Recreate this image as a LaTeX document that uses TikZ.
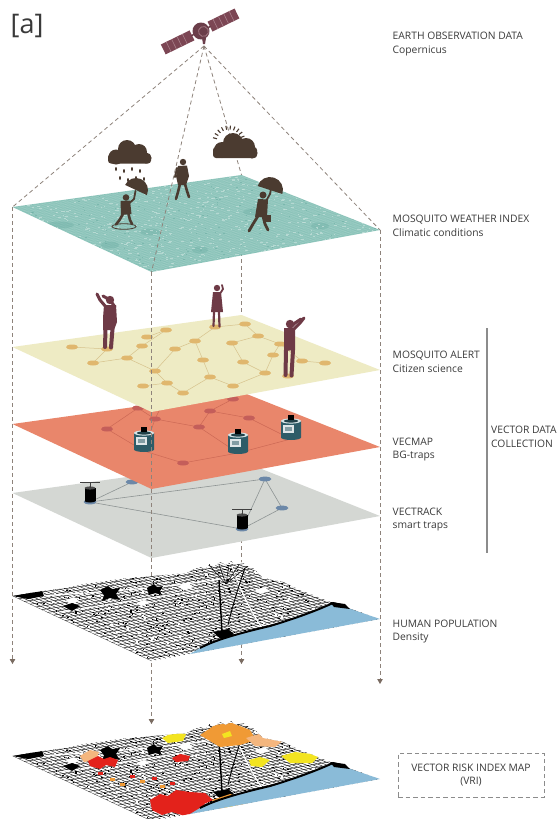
\documentclass[tikz,border=0pt]{standalone}
\usepackage{fontspec}
\setmainfont{Open Sans}
\usetikzlibrary{arrows.meta,calc}

\definecolor{txt}{HTML}{3A3A3A}
\definecolor{dashc}{HTML}{8E837B}
\definecolor{arrowc}{HTML}{7A6C62}
\definecolor{teala}{HTML}{88C2B8}
\definecolor{tealb}{HTML}{C2E0DA}
\definecolor{tealc}{HTML}{6DAEA4}
\definecolor{yellowl}{HTML}{EEEBC4}
\definecolor{yellowd}{HTML}{E0B76E}
\definecolor{yellown}{HTML}{D6C28C}
\definecolor{corall}{HTML}{E9866B}
\definecolor{corald}{HTML}{C45E5A}
\definecolor{coraln}{HTML}{C5614F}
\definecolor{greyl}{HTML}{D4D7D3}
\definecolor{greyn}{HTML}{8E9494}
\definecolor{blued}{HTML}{6C88A8}
\definecolor{sea}{HTML}{8ABBD8}
\definecolor{brownsil}{HTML}{4B3B30}
\definecolor{maroonsil}{HTML}{6E3A46}
\definecolor{satbody}{HTML}{6B3E4A}
\definecolor{satpanel}{HTML}{7C4654}
\definecolor{satline}{HTML}{A9808A}
\definecolor{trapbody}{HTML}{2E5C68}
\definecolor{traplid}{HTML}{D6E4E6}
\definecolor{vlinec}{HTML}{8C8C8C}
\definecolor{riskred}{HTML}{E3221B}
\definecolor{riskorange}{HTML}{F09A35}
\definecolor{riskpeach}{HTML}{F4B67E}
\definecolor{riskyellow}{HTML}{F3E420}

\tikzset{
  guide/.style={draw=dashc, line width=0.8pt, dash pattern=on 4pt off 3pt},
  guidearrow/.style={guide, -{Triangle[width=5.5pt,length=5pt,color=arrowc]}},
  lbl/.style={font=\fontsize{10.3}{12}\selectfont, text=txt, inner sep=0pt, anchor=base west},
  limb/.style={line cap=round, line join=round},
  ynet/.style={draw=yellown, line width=0.5pt},
  cnet/.style={draw=coraln, line width=0.5pt, opacity=0.8},
  gnet/.style={draw=greyn, line width=0.6pt},
  street/.style={black!85, line width=0.5pt},
}

% street-map outline of the city (human population frame)
\newcommand\cityoutline{(12.5,596) -- (30,593) -- (50,590) -- (67,588) -- (84,584) -- (100,582) -- (120,579) -- (143,577) -- (165,575) -- (187,573) -- (194,569) -- (200,567) -- (205,569) -- (210,564) -- (215,566) -- (220,562) -- (226,565) -- (231,561) -- (236,565) -- (242,562) -- (247,566) -- (252,567) -- (258,573) -- (263,578) -- (283,582) -- (300,590) -- (318,597) -- (333,603) -- (380,619) -- (151.5,661) -- cycle}

\newcommand\citymap[1]{%
\begin{scope}
  \clip \cityoutline;
  \fill[white] (0,540) rectangle (400,680);
  \foreach \u in {0,0.021,...,1.0}
    \draw[street, shorten <=-16pt] ({12.5+229*\u},{596-32*\u}) -- ({151.5+228.5*\u},{661-42*\u});
  \foreach \v in {0,0.042,...,1.0}
    \draw[street, shorten >=-16pt] ({12.5+139*\v},{596+65*\v}) -- ({241.5+138.5*\v},{564+55*\v});
  % irregular blocks breaking the grid
  \pgfmathsetseed{7}
  \foreach \i in {1,...,250}{
    \pgfmathsetmacro\px{12+rnd*370}
    \pgfmathsetmacro\py{555+rnd*108}
    \fill[white] (\px,\py) rectangle ++(2.2,1.4);
  }
  \foreach \i in {1,...,650}{
    \pgfmathsetmacro\px{12+rnd*370}
    \pgfmathsetmacro\py{555+rnd*108}
    \fill[black] (\px,\py) rectangle ++(1.5,1.1);
  }
  % open squares and avenues
  \fill[white] (66,600) -- (74,597) -- (79,601) -- (70,604) -- cycle;
  \fill[white] (136,603) -- (144,600) -- (150,603) -- (141,606) -- cycle;
  \fill[white] (178,586) -- (188,583) -- (194,587) -- (183,590) -- cycle;
  \fill[white] (255,590) -- (264,587) -- (270,591) -- (260,594) -- cycle;
  \draw[white, line width=1.2pt] (40,596) .. controls (100,592) and (170,588) .. (240,576);
  \draw[white, line width=1pt] (232,566) .. controls (240,590) and (250,610) .. (262,628);
  \draw[white, line width=0.9pt] (60,612) -- (200,590);
  % dense dark districts
  \fill[black] (13,596) -- (42,591) -- (44,596) -- (28,599) -- cycle;
  \fill[black] (63,606) -- (72,603) -- (80,606) -- (72,611) -- cycle;
  \fill[black] (100,590) -- (108,586) -- (112,589) -- (120,588) -- (116,594) -- (120,600) -- (110,598) -- (102,601) -- (104,595) -- cycle;
  \fill[black] (147,588) -- (154,584) -- (157,587) -- (163,586) -- (160,591) -- (162,595) -- (155,593) -- (149,595) -- cycle;
  \fill[black] (213,632) -- (228,629) -- (234,634) -- (222,640) -- cycle;
  \draw[black, line width=1.4pt] (219,580) -- (222,632);
  \draw[black, line width=0.9pt] (245,568) .. controls (238,588) and (232,608) .. (228,625);
  \foreach \px in {209,219,...,249}
    \draw[black, line width=0.5pt] (226,584) -- (\px,565);
  #1
\end{scope}
% sea and coastline
\fill[sea] (333,603) -- (380,619) -- (190,654) -- (200,648) .. controls (215,640) and (240,633) .. (270,626) .. controls (300,617) and (320,609) .. (333,603) -- cycle;
\draw[black, line width=2pt] (346,606) -- (333,603) .. controls (320,609) and (300,617) .. (270,626) .. controls (240,633) and (215,640) .. (200,648);
\fill[black] (330,602) -- (345,604) -- (350,609) -- (334,607) -- cycle;
}

% risk classes painted over the street map
\newcommand\riskpatches{%
  \fill[riskpeach] (80,596) -- (90,590) -- (99,592) -- (96,600) -- (84,602) -- cycle;
  \fill[riskred] (88,601) -- (98,596) -- (104,599) -- (110,597) -- (118,600) -- (115,607) -- (106,605) -- (100,609) -- (90,606) -- cycle;
  \fill[riskred] (172,598) -- (180,594) -- (190,596) -- (188,601) -- (176,602) -- cycle;
  \fill[riskyellow] (162,578) -- (172,573) -- (186,574) -- (183,581) -- (168,583) -- cycle;
  \fill[riskorange] (200,575) -- (215,565) -- (232,563) -- (250,570) -- (256,580) -- (240,585) -- (220,587) -- cycle;
  \fill[riskyellow] (222,574) -- (230,571) -- (232,576) -- (224,578) -- cycle;
  \fill[riskpeach] (246,578) -- (262,573) -- (284,580) -- (275,587) -- (255,586) -- cycle;
  \fill[riskyellow] (249,600) -- (260,597) -- (270,600) -- (262,607) -- (251,606) -- cycle;
  \fill[riskyellow] (281,596) -- (295,592) -- (320,595) -- (312,603) -- (290,603) -- cycle;
  \fill[riskred] (150,640) -- (160,634) -- (168,636) -- (176,630) -- (190,632) -- (205,633) -- (213,640) -- (204,644) -- (208,650) -- (195,652) -- (185,656) -- (172,652) -- (162,655) -- (152,650) -- cycle;
  \fill[riskorange] (212,640) -- (230,634) -- (249,640) -- (240,650) -- (222,653) -- cycle;
  \fill[riskyellow] (224,645) -- (232,642) -- (236,646) -- (228,649) -- cycle;
  \foreach \px/\py/\c in {130/615/riskred, 140/620/riskorange, 152/617/riskred, 160/625/riskorange, 120/623/riskorange, 98/612/riskred, 110/618/riskorange, 170/622/riskred}
    \fill[\c] (\px,\py) rectangle ++(5,2.5);
}

% BG-trap bucket, given by its bottom centre
\newcommand\bgtrap[2]{%
\begin{scope}[shift={(#1,#2)}]
  \fill[trapbody] (-10,-2.5) -- (-10,-19) -- (10,-19) -- (10,-2.5) arc[start angle=0, end angle=180, x radius=10, y radius=2.5] -- cycle;
  \fill[traplid] (0,-19) ellipse [x radius=10, y radius=2.6];
  \fill[trapbody!70!black] (0,-19) ellipse [x radius=7, y radius=1.6];
  \fill[white, opacity=0.85] (-8.5,-15) rectangle (3,-7);
  \fill[trapbody!60] (-6,-13) rectangle (1,-9);
  \fill[black] (-3,-25) rectangle (3,-20);
\end{scope}}

% smart trap with its fan, given by its base centre
\newcommand\smarttrap[2]{%
\begin{scope}[shift={(#1,#2)}]
  \fill[blued] (0,0) ellipse [x radius=6.5, y radius=2.4];
  \fill[black] (-5.5,-1) rectangle (5.5,-14);
  \fill[black] (0,-1) ellipse [x radius=5.5, y radius=1.5];
  \fill[gray!60!black] (0,-14) ellipse [x radius=5.5, y radius=1.6];
  \draw[gray!50!black, line width=0.8pt] (0,-14) -- (0,-19);
  \draw[gray!50!black, line width=1pt] (-10,-19.5) -- (10,-19.5);
\end{scope}}

\begin{document}
\begin{tikzpicture}[x=1pt,y=-1pt]
\useasboundingbox (0,0) rectangle (558,819);
\fill[white] (0,0) rectangle (558,819);

% layer corners: left, back, right, front
\foreach \n/\off in {1/0,2/140,3/217,4/286,5/389,6/549}{
  \coordinate (L\n) at (12.5,{207+\off});
  \coordinate (B\n) at (241.5,{175+\off});
  \coordinate (R\n) at (380,{230+\off});
  \coordinate (F\n) at (151.5,{272+\off});
}
\coordinate (sat) at (204,46);
\coordinate (aL) at (12.5,664);
\coordinate (aB) at (241.5,664);
\coordinate (aR) at (380,684);
\coordinate (aF) at (151.5,724);

% observation cone and projection guides behind the layers
\draw[guide] (sat) -- (L1);
\draw[guide] (sat) -- (B1);
\draw[guide] (sat) -- (R1);
\draw[guidearrow] (L1) -- (aL);
\draw[guidearrow] (B1) -- (aB);
\draw[guidearrow] (R1) -- (aR);

% vector risk index map
\begin{scope}[shift={(0,160)}]
  \citymap{\riskpatches}
\end{scope}
\draw[guidearrow] (F4) -- (aF);

% human population
\citymap{}

% vectrack layer
\fill[greyl] (L4) -- (B4) -- (R4) -- (F4) -- cycle;
\coordinate (T1) at (90,502);
\coordinate (D1) at (132,482);
\coordinate (D2) at (265,479);
\coordinate (D3) at (282,508);
\coordinate (T2) at (242,529);
\foreach \a/\b in {T1/D1, T1/D2, T1/T2, D2/D3, D2/T2, D3/T2}
  \draw[gnet] (\a) -- (\b);
\foreach \a in {D1,D2,D3}
  \fill[blued] (\a) ellipse [x radius=6.5, y radius=2.4];
\smarttrap{90}{502}
\smarttrap{242}{529}

% vecmap layer
\fill[corall] (L3) -- (B3) -- (R3) -- (F3) -- cycle;
\foreach \n/\px/\py in {1/107/429, 2/138/408, 3/155/419, 4/199/427, 5/210/411, 6/233/399, 7/249/418, 8/183/463, 9/166/397, t1/144/451, t2/238/453, t3/291/439}
  \coordinate (od\n) at (\px,\py);
\foreach \a/\b in {1/2, 2/3, 3/9, 3/4, 4/5, 5/6, 5/7, 1/t1, 3/t1, t1/8, 8/t2, 4/t2, t2/t3, 7/t3, 6/9}
  \draw[cnet] (od\a) -- (od\b);
\foreach \n in {1,...,9}
  \fill[corald] (od\n) ellipse [x radius=6, y radius=2.5];
\bgtrap{144}{452}
\bgtrap{238}{454}
\bgtrap{291}{440}

% mosquito alert layer
\fill[yellowl] (L2) -- (B2) -- (R2) -- (F2) -- cycle;
\foreach \n/\px/\py in {1/72/347, 2/93/363, 3/107/349, 4/127/358, 5/142/346, 6/147/337, 7/166/330, 8/175/349, 9/155/371, 10/143/386, 11/167/383, 12/183/393, 13/195/341, 14/203/360, 15/215/327, 16/232/343, 17/245/324, 18/258/336, 19/243/362, 20/273/355, 21/280/344, 22/265/373, 23/210/377, 24/233/386, 25/288/376, 26/302/361, 27/325/363}
  \coordinate (yd\n) at (\px,\py);
\foreach \a/\b in {1/3, 3/2, 2/4, 4/5, 5/7, 6/7, 4/9, 9/11, 11/12, 10/11, 12/23, 23/14, 14/13, 13/15, 15/17, 17/18, 18/16, 16/19, 19/22, 22/24, 20/21, 20/22, 8/13, 8/9, 21/26, 26/27, 23/24, 18/21}
  \draw[ynet] (yd\a) -- (yd\b);
\foreach \n in {1,...,27}
  \fill[yellowd] (yd\n) ellipse [x radius=6, y radius=2.5];

% citizen scientists
\begin{scope}[maroonsil]
  \fill (110,300) circle (4.2);
  \fill (104,305) -- (116,305) -- (117,322) -- (114,330) -- (103,330) -- (103,318) -- cycle;
  \draw[limb, line width=3pt] (106,307) -- (100,300) -- (97,294);
  \draw[limb, line width=3pt] (115,307) -- (110,300) -- (103,296);
  \draw[limb, line width=4pt] (105.5,329) -- (105,347);
  \draw[limb, line width=4pt] (112.5,329) -- (111,347.5);
  \fill (217,288) circle (3.2);
  \fill (213,292) -- (221,292) -- (223,312) -- (211,312) -- cycle;
  \draw[limb, line width=2.2pt] (214,312) -- (213.5,326);
  \draw[limb, line width=2.2pt] (219,312) -- (219.5,326.5);
  \draw[limb, line width=1.8pt] (220.5,293) -- (223,289) -- (222,285);
  \fill (290,324) circle (4.2);
  \fill (284,328) -- (295,328) -- (295,350) -- (284,351) -- cycle;
  \draw[limb, line width=3pt] (293,330) -- (300,323) -- (304,318);
  \draw[limb, line width=3pt] (287,331) -- (295,323) -- (301,319);
  \draw[limb, line width=4pt] (286,350) -- (285.5,375);
  \draw[limb, line width=4pt] (293,350) -- (291.5,375.5);
\end{scope}

% mosquito weather index layer
\fill[teala] (L1) -- (B1) -- (R1) -- (F1) -- cycle;
\begin{scope}
  \clip (L1) -- (B1) -- (R1) -- (F1) -- cycle;
  \foreach \u in {0.015,0.03,...,0.99}
    \draw[white, opacity=0.1, line width=0.7pt] ($(L1)!\u!(B1)$) -- ($(F1)!\u!(R1)$);
  \foreach \v in {0.02,0.04,...,0.99}
    \draw[white, opacity=0.1, line width=0.7pt] ($(L1)!\v!(F1)$) -- ($(B1)!\v!(R1)$);
  \foreach \px/\py/\rx in {60/225/14, 150/232/10, 255/212/12, 320/226/9, 200/250/8, 110/245/9}
    \fill[tealc, opacity=0.4] (\px,\py) ellipse [x radius=\rx, y radius=3.5];
  \pgfmathsetseed{42}
  \foreach \i in {1,...,900}{
    \pgfmathsetmacro\px{12+rnd*368}
    \pgfmathsetmacro\py{175+rnd*97}
    \pgfmathsetmacro\pw{0.8+rnd*2.5}
    \fill[tealb, opacity=0.75] (\px,\py) rectangle ++(\pw,1);
  }
  \foreach \i in {1,...,250}{
    \pgfmathsetmacro\px{12+rnd*368}
    \pgfmathsetmacro\py{175+rnd*97}
    \fill[tealc, opacity=0.6] (\px,\py) rectangle ++(1.6,1);
  }
\end{scope}

% weather and pedestrians
\begin{scope}[brownsil]
  \fill (116,157) circle (7.5) (127,149) circle (9) (139,152) circle (8) (146,158) circle (5.5);
  \fill[rounded corners=3pt] (108,154) rectangle (151,163.5);
  \foreach \px/\py in {116/169,124/171,132/169,140/171,120/178,128/180,136/178,144/179}
    \fill (\px,\py) ellipse [x radius=0.9, y radius=2];
  \foreach \a in {195,211,...,345}
    \draw[line width=1.1pt] ($(229,142)+(\a:12.5)$) -- ($(229,142)+(\a:16.5)$);
  \fill (222,150) circle (8) (233,143) circle (10) (246,147) circle (9) (252,153) circle (5.5);
  \fill[rounded corners=3pt] (213,147) rectangle (257,158);
  % walker under the rain
  \fill[rotate around={-25:(136,190)}] (124,190) arc[start angle=180, end angle=360, radius=12] -- cycle;
  \fill (126,197.5) circle (3.3);
  \fill (120.5,201) -- (130,200.5) -- (131.5,214) -- (121,215) -- cycle;
  \draw[limb, line width=2.6pt] (123,214) -- (119.5,220) -- (116,224.5);
  \draw[limb, line width=2.6pt] (128.5,214) -- (130,220) -- (132,224);
  \draw[limb, line width=1.8pt] (129.5,203) -- (134,199) -- (135.5,191);
  \draw[line width=0.8pt] (124,226.5) ellipse [x radius=12, y radius=2.8];
  % walker in the middle
  \fill (183,162) circle (3.2);
  \fill (178,166) -- (187,165.5) -- (189,176) -- (186,185) -- (178,185) -- (176,176) -- cycle;
  \draw[limb, line width=2.6pt] (180,184) -- (178,192) -- (176,199);
  \draw[limb, line width=2.6pt] (185,184) -- (187,191) -- (189,197);
  \draw[limb, line width=2pt] (177,168) -- (175,177);
  % walker with umbrella and briefcase
  \fill[rotate around={-18:(270,190)}] (257,190) arc[start angle=180, end angle=360, radius=13] -- cycle;
  \fill (263,195) circle (3.5);
  \fill (258,199) -- (268,199.5) -- (267,217) -- (255,217) -- cycle;
  \draw[limb, line width=2.8pt] (258,216) -- (253,224) -- (249,231);
  \draw[limb, line width=2.8pt] (263,216) -- (265,224) -- (268,230);
  \draw[limb, line width=1.8pt] (266,201) -- (270,194) -- (271,189);
  \draw[limb, line width=1.8pt] (259,202) -- (264,212) -- (266,216);
  \fill (264,215) rectangle (271,222);
\end{scope}

% projection guides in front of the layers
\draw[guide] (F1) -- (F4);
\draw[guide] (sat) -- (F1);

% satellite
\begin{scope}[shift={(201,31)}, rotate=26]
  \fill[satpanel] (-42,-5.5) rectangle (-10,5.5);
  \fill[satpanel] (10,-5.5) rectangle (40,5.5);
  \foreach \k in {-36,-30,...,-16}
    \draw[satline, line width=0.6pt] (\k,-5.5) -- (\k,5.5);
  \foreach \k in {16,22,...,34}
    \draw[satline, line width=0.6pt] (\k,-5.5) -- (\k,5.5);
  \draw[satbody, line width=1.5pt] (-11,0) -- (11,0);
  \fill[satbody] (0,0) circle (8.5);
  \draw[satline, line width=0.7pt] (2,1.5) circle (5);
\end{scope}
\fill[satbody] (202,38) -- (206,38) -- (205,44) -- (203,44) -- cycle;

% vector data collection bracket
\coordinate (vtop) at (487,328);
\coordinate (vbot) at (487,553);
\draw[vlinec, line width=1.1pt] (vtop) -- (vbot);

% labels
\node[font=\fontsize{27}{30}\selectfont, text=txt, inner sep=0pt, anchor=base west] (tag) at (10.5,33.5) {[a]};
\node[lbl] (eo1) at (392.5,39.5) {EARTH OBSERVATION DATA};
\node[lbl] (eo2) at (392.5,53) {Copernicus};
\node[lbl] (mw1) at (392.5,222.5) {MOSQUITO WEATHER INDEX};
\node[lbl] (mw2) at (392.5,236) {Climatic conditions};
\node[lbl] (ma1) at (392.5,358.5) {MOSQUITO ALERT};
\node[lbl] (ma2) at (392.5,372) {Citizen science};
\node[lbl] (vm1) at (392.5,445) {VECMAP};
\node[lbl] (vm2) at (392.5,458.5) {BG-traps};
\node[lbl] (vt1) at (392.5,515) {VECTRACK};
\node[lbl] (vt2) at (392.5,528.5) {smart traps};
\node[lbl] (hp1) at (392.5,627) {HUMAN POPULATION};
\node[lbl] (hp2) at (392.5,640.5) {Density};
\node[lbl] (vd1) at (491,433.5) {VECTOR DATA};
\node[lbl] (vd2) at (491,447) {COLLECTION};
\node[draw=vlinec, dash pattern=on 4.5pt off 3pt, line width=0.9pt, minimum width=146pt, minimum height=44pt, align=center, font=\fontsize{10.3}{13}\selectfont, text=txt, inner sep=0pt] (vri) at (471,775) {VECTOR RISK INDEX MAP\\(VRI)};
\end{tikzpicture}
\end{document}
